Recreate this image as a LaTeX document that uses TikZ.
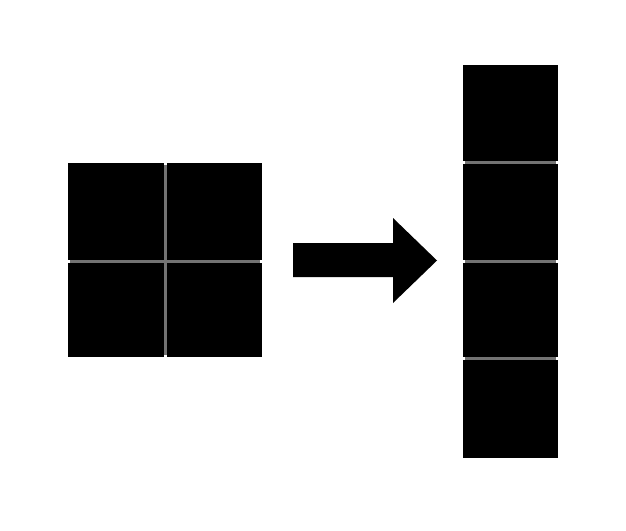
\documentclass[tikz,border=0pt]{standalone}
\begin{document}
\begin{tikzpicture}[x=1pt,y=-1pt,
  sq/.style={fill=black,draw=none,inner sep=0pt,outer sep=0pt,anchor=north west},
  gapfill/.style={fill=black!55,draw=none}]
\useasboundingbox[fill=white] (0,0) rectangle (626,530);
% left 2x2 grid
\fill[gapfill] (70,165) rectangle (260,355);
\node[sq,minimum width=95.5pt,minimum height=96.5pt] (tl) at (68,163) {};
\node[sq,minimum width=95.5pt,minimum height=96.5pt] (tr) at (166.5,163) {};
\node[sq,minimum width=95.5pt,minimum height=94.5pt] (bl) at (68,262.5) {};
\node[sq,minimum width=95.5pt,minimum height=94.5pt] (br) at (166.5,262.5) {};
% arrow
\fill[black] (293,243) -- (393,243) -- (393,218) -- (437,260.5) -- (393,303) -- (393,277) -- (293,277) -- cycle;
% right column
\fill[gapfill] (465,67) rectangle (556,456);
\node[sq,minimum width=95pt,minimum height=95.5pt] (r1) at (463,65) {};
\node[sq,minimum width=95pt,minimum height=96pt] (r2) at (463,163.5) {};
\node[sq,minimum width=95pt,minimum height=94pt] (r3) at (463,262.5) {};
\node[sq,minimum width=95pt,minimum height=98.5pt] (r4) at (463,359.5) {};
\end{tikzpicture}
\end{document}
